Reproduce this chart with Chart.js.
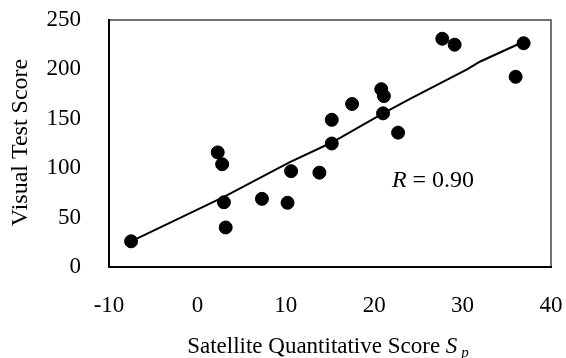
<!DOCTYPE html>
<html>
<head>
<meta charset="utf-8">
<script src="https://cdn.jsdelivr.net/npm/chart.js@4.4.1/dist/chart.umd.min.js"></script>
<style>
  html, body { margin: 0; padding: 0; background: #ffffff; }
  #wrap { width: 566px; height: 358px; position: relative; }
</style>
</head>
<body>
<div id="wrap"><canvas id="c" width="566" height="358"></canvas></div>
<script>
// ---- data ----
const scoreSp = [-7.5, 2.3, 2.8, 3.0, 3.2, 7.3, 10.2, 10.6, 13.8, 15.2, 15.2, 17.5, 20.8, 21.1, 21.0, 22.7, 27.7, 29.1, 36.9, 36.0];
const visualScore = [26, 116, 104, 65.5, 40, 69, 65, 97, 95.5, 125, 149, 165, 180, 173, 155.5, 136, 231, 225, 226.5, 192.5];
const fitX = [-7.5, 3.0, 10.4, 15.2, 21.0, 24.0, 30.5, 32.0, 36.9];
const fitY = [26, 71, 106, 126, 155.5, 170, 200, 208, 228];
const xTickValues = [-10, 0, 10, 20, 30, 40];
const yTickValues = [0, 50, 100, 150, 200, 250];
const xTitle = "Satellite Quantitative Score ";
const xTitleVar = "S";
const xTitleSub = "p";
const yTitle = "Visual Test Score";
const rLabelVar = "R";
const rLabelText = " = 0.90";
const rLabelPos = { x: 22.0, y: 81 };

const FONT = "'Liberation Serif', 'Times New Roman', serif";

const pointsData = scoreSp.map((x, i) => ({ x: x, y: visualScore[i] }));
const fitData = fitX.map((x, i) => ({ x: x, y: fitY[i] }));

function zeroPad(scale) {
  scale.paddingTop = 0; scale.paddingBottom = 0;
  scale.paddingLeft = 0; scale.paddingRight = 0;
}

const decorPlugin = {
  id: 'decor',
  afterDraw(chart) {
    const ctx = chart.ctx;
    const a = chart.chartArea;
    ctx.save();
    // frame
    ctx.lineCap = 'square';
    ctx.strokeStyle = '#444444';
    ctx.lineWidth = 1.5;
    ctx.beginPath();
    ctx.moveTo(a.left, a.top); ctx.lineTo(a.right, a.top); ctx.lineTo(a.right, a.bottom);
    ctx.stroke();
    ctx.strokeStyle = '#000000';
    ctx.lineWidth = 2;
    ctx.beginPath();
    ctx.moveTo(a.left, a.top); ctx.lineTo(a.left, a.bottom); ctx.lineTo(a.right, a.bottom);
    ctx.stroke();

    ctx.fillStyle = '#000000';
    // y title
    ctx.save();
    ctx.translate(27, (a.top + a.bottom) / 2 - 1);
    ctx.rotate(-Math.PI / 2);
    ctx.font = "24px " + FONT;
    ctx.textAlign = 'center';
    ctx.textBaseline = 'alphabetic';
    ctx.fillText(yTitle, 0, 0);
    ctx.restore();

    // x title with italic S and subscript p
    ctx.textBaseline = 'alphabetic';
    ctx.textAlign = 'left';
    const fReg = "23px " + FONT;
    const fIt = "italic 23px " + FONT;
    const fSub = "italic 15px " + FONT;
    ctx.font = fReg; const w1 = ctx.measureText(xTitle).width;
    ctx.font = fIt; const w2 = ctx.measureText(xTitleVar).width;
    ctx.font = fSub; const w3 = ctx.measureText(xTitleSub).width;
    const gap = 4;
    const total = w1 + w2 + gap + w3;
    let sx = 328 - total / 2;
    const by = 353;
    ctx.font = fReg; ctx.fillText(xTitle, sx, by);
    ctx.font = fIt; ctx.fillText(xTitleVar, sx + w1, by);
    ctx.font = fSub; ctx.fillText(xTitleSub, sx + w1 + w2 + gap, by + 4);

    // R annotation
    const xs = chart.scales.x, ys = chart.scales.y;
    const rx = xs.getPixelForValue(rLabelPos.x);
    const ry = ys.getPixelForValue(rLabelPos.y);
    const fR = "24px " + FONT, fRi = "italic 24px " + FONT;
    ctx.font = fRi; ctx.fillText(rLabelVar, rx, ry);
    const wr = ctx.measureText(rLabelVar).width;
    ctx.font = fR; ctx.fillText(rLabelText, rx + wr, ry);
    ctx.restore();
  }
};

new Chart(document.getElementById('c'), {
  type: 'scatter',
  data: {
    datasets: [
      {
        label: 'Observations',
        data: pointsData,
        backgroundColor: '#000000',
        borderColor: '#000000',
        pointRadius: 6.5,
        pointHoverRadius: 6.5,
        order: 1
      },
      {
        label: 'Fit',
        type: 'line',
        data: fitData,
        showLine: true,
        borderColor: '#000000',
        borderWidth: 2,
        pointRadius: 0,
        fill: false,
        tension: 0,
        order: 2
      }
    ]
  },
  options: {
    responsive: false,
    animation: false,
    devicePixelRatio: 1,
    layout: { padding: { left: 0, right: 15, top: 20, bottom: 0 } },
    plugins: {
      legend: { display: false },
      tooltip: { enabled: false },
      title: { display: false }
    },
    scales: {
      x: {
        type: 'linear',
        min: -10, max: 40,
        afterBuildTicks(scale) { scale.ticks = xTickValues.map(v => ({ value: v })); },
        afterFit(scale) { scale.height = 91; zeroPad(scale); },
        ticks: { color: '#000000', font: { family: FONT, size: 23 }, padding: 25, maxRotation: 0 },
        grid: { display: false, drawTicks: false },
        border: { display: false },
        title: { display: false }
      },
      y: {
        type: 'linear',
        min: 0, max: 250,
        afterBuildTicks(scale) { scale.ticks = yTickValues.map(v => ({ value: v })); },
        afterFit(scale) { scale.width = 109; zeroPad(scale); },
        ticks: { color: '#000000', font: { family: FONT, size: 23 }, padding: 28 },
        grid: { display: false, drawTicks: false },
        border: { display: false },
        title: { display: false }
      }
    }
  },
  plugins: [decorPlugin]
});
</script>
</body>
</html>
